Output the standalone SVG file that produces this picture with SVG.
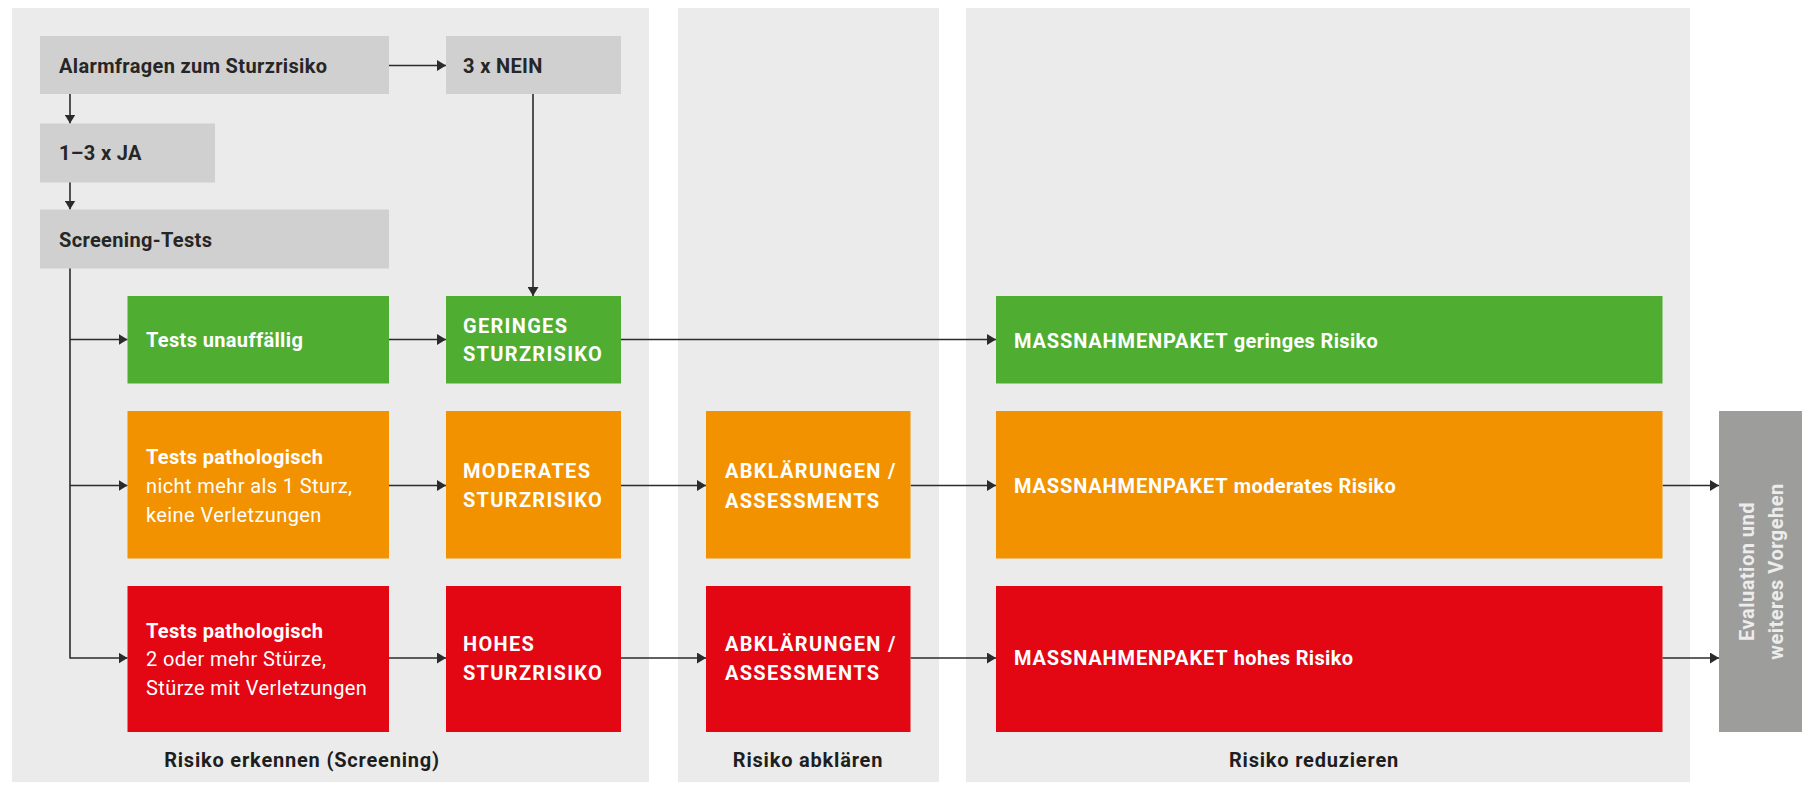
<svg xmlns="http://www.w3.org/2000/svg" width="1802" height="785" viewBox="0 0 1802 785">
<defs>
<style>
.panel{fill:#ebebeb}
.gray{fill:#d0d0d0}
.green{fill:#4fad32}
.orange{fill:#f29200}
.red{fill:#e30613}
.eval{fill:#9d9d9c}
text{font-family:Roboto,"Liberation Sans",sans-serif;font-size:20px;letter-spacing:0.35px}
.dk{fill:#262626;font-weight:700}
.wb{fill:#ffffff;font-weight:700}
.caps{letter-spacing:1.3px}
.mp{letter-spacing:0.85px}
.wr{fill:#ffffff;font-weight:400;letter-spacing:0.4px}
.lbl{fill:#1e1e1e;font-weight:700;letter-spacing:0.8px;text-anchor:middle}
.evt{fill:#ececec;font-weight:700;letter-spacing:0.5px;text-anchor:middle}
.conn line{stroke:#2b2b2b;stroke-width:1.6;fill:none}
</style>
<marker id="ah" markerUnits="userSpaceOnUse" markerWidth="10" markerHeight="11" refX="9" refY="5.5" orient="auto">
<path d="M0,0 L9,5.5 L0,11 z" fill="#2b2b2b"/>
</marker>
</defs>
<rect width="1802" height="785" fill="#ffffff"/>
<g id="panels">
<rect class="panel" x="12" y="8" width="637" height="774"/>
<rect class="panel" x="678" y="8" width="261" height="774"/>
<rect class="panel" x="966" y="8" width="724" height="774"/>
<text class="lbl" x="302" y="767">Risiko erkennen (Screening)</text>
<text class="lbl" x="808" y="767">Risiko abklären</text>
<text class="lbl" x="1314" y="767">Risiko reduzieren</text>
</g>
<g class="conn" id="connectors">
<line x1="389" y1="65.5" x2="446" y2="65.5" marker-end="url(#ah)"/>
<line x1="70" y1="94" x2="70" y2="123.5" marker-end="url(#ah)"/>
<line x1="70" y1="182" x2="70" y2="209.5" marker-end="url(#ah)"/>
<line x1="533" y1="94" x2="533" y2="296" marker-end="url(#ah)"/>
<line x1="70" y1="268" x2="70" y2="658.5"/>
<line x1="70" y1="339.5" x2="127.5" y2="339.5" marker-end="url(#ah)"/>
<line x1="70" y1="485.5" x2="127.5" y2="485.5" marker-end="url(#ah)"/>
<line x1="70" y1="658" x2="127.5" y2="658" marker-end="url(#ah)"/>
<line x1="389" y1="339.5" x2="446" y2="339.5" marker-end="url(#ah)"/>
<line x1="389" y1="485.5" x2="446" y2="485.5" marker-end="url(#ah)"/>
<line x1="389" y1="658" x2="446" y2="658" marker-end="url(#ah)"/>
<line x1="621" y1="339.5" x2="996" y2="339.5" marker-end="url(#ah)"/>
<line x1="621" y1="485.5" x2="706" y2="485.5" marker-end="url(#ah)"/>
<line x1="621" y1="658" x2="706" y2="658" marker-end="url(#ah)"/>
<line x1="910.5" y1="485.5" x2="996" y2="485.5" marker-end="url(#ah)"/>
<line x1="910.5" y1="658" x2="996" y2="658" marker-end="url(#ah)"/>
<line x1="1662.5" y1="485.5" x2="1719" y2="485.5" marker-end="url(#ah)"/>
<line x1="1662.5" y1="658" x2="1719" y2="658" marker-end="url(#ah)"/>
</g>
<g id="n-alarm">
<rect class="gray" x="40" y="36" width="349" height="58"/>
<text class="dk" x="59" y="73">Alarmfragen zum Sturzrisiko</text>
</g>
<g id="n-nein">
<rect class="gray" x="446" y="36" width="175" height="58"/>
<text class="dk" x="463" y="73">3 x NEIN</text>
</g>
<g id="n-ja">
<rect class="gray" x="40" y="123.5" width="175" height="59"/>
<text class="dk" x="59" y="159.5">1–3 x JA</text>
</g>
<g id="n-screening">
<rect class="gray" x="40" y="209.5" width="349" height="59"/>
<text class="dk" x="59" y="246.5">Screening-Tests</text>
</g>
<g id="n-unauff">
<rect class="green" x="127.5" y="296" width="261.5" height="87.5"/>
<text class="wb" x="146" y="346.5">Tests unauffällig</text>
</g>
<g id="n-geringes">
<rect class="green" x="446" y="296" width="175" height="87.5"/>
<text class="wb caps" x="463" y="332.5">GERINGES</text>
<text class="wb caps" x="463" y="361">STURZRISIKO</text>
</g>
<g id="n-patho-mod">
<rect class="orange" x="127.5" y="411" width="261.5" height="147.5"/>
<text class="wb" x="146" y="463.5">Tests pathologisch</text>
<text class="wr" x="146" y="492.5">nicht mehr als 1 Sturz,</text>
<text class="wr" x="146" y="521.5">keine Verletzungen</text>
</g>
<g id="n-moderates">
<rect class="orange" x="446" y="411" width="175" height="147.5"/>
<text class="wb caps" x="463" y="477.5">MODERATES</text>
<text class="wb caps" x="463" y="506.5">STURZRISIKO</text>
</g>
<g id="n-patho-hoch">
<rect class="red" x="127.5" y="586" width="261.5" height="146"/>
<text class="wb" x="146" y="637.5">Tests pathologisch</text>
<text class="wr" x="146" y="666">2 oder mehr Stürze,</text>
<text class="wr" x="146" y="695">Stürze mit Verletzungen</text>
</g>
<g id="n-hohes">
<rect class="red" x="446" y="586" width="175" height="146"/>
<text class="wb caps" x="463" y="651">HOHES</text>
<text class="wb caps" x="463" y="680">STURZRISIKO</text>
</g>
<g id="n-abkl-mod">
<rect class="orange" x="706" y="411" width="204.5" height="147.5"/>
<text class="wb caps" x="725" y="478">ABKLÄRUNGEN /</text>
<text class="wb caps" x="725" y="507.5">ASSESSMENTS</text>
</g>
<g id="n-abkl-hoch">
<rect class="red" x="706" y="586" width="204.5" height="146"/>
<text class="wb caps" x="725" y="651">ABKLÄRUNGEN /</text>
<text class="wb caps" x="725" y="680">ASSESSMENTS</text>
</g>
<g id="n-mp-gering">
<rect class="green" x="996" y="296" width="666.5" height="87.5"/>
<text class="wb" x="1014" y="347.5"><tspan class="mp">MASSNAHMENPAKET</tspan> geringes Risiko</text>
</g>
<g id="n-mp-mod">
<rect class="orange" x="996" y="411" width="666.5" height="147.5"/>
<text class="wb" x="1014" y="493"><tspan class="mp">MASSNAHMENPAKET</tspan> moderates Risiko</text>
</g>
<g id="n-mp-hoch">
<rect class="red" x="996" y="586" width="666.5" height="146"/>
<text class="wb" x="1014" y="665"><tspan class="mp">MASSNAHMENPAKET</tspan> hohes Risiko</text>
</g>
<g id="n-eval">
<rect class="eval" x="1719" y="411" width="83" height="321"/>
<text class="evt" transform="translate(1754,571.5) rotate(-90)">Evaluation und</text>
<text class="evt" transform="translate(1782.5,571.5) rotate(-90)">weiteres Vorgehen</text>
</g>
</svg>
